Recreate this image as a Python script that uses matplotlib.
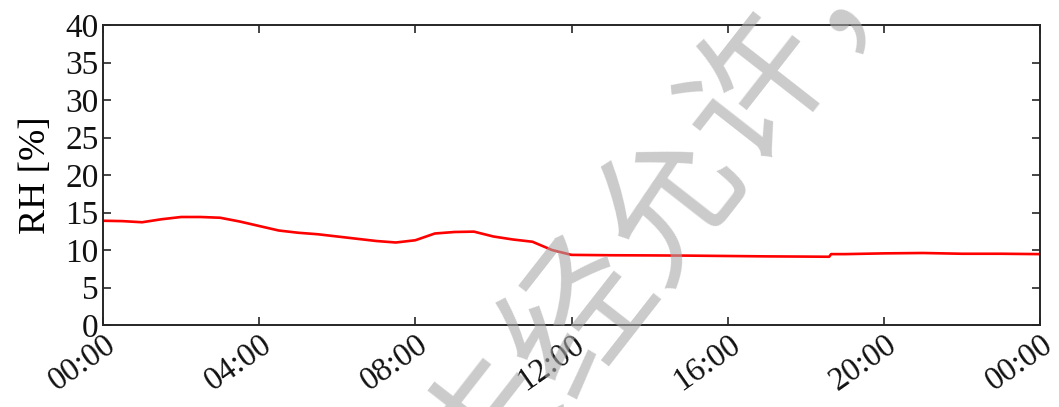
import matplotlib
matplotlib.use("Agg")
import matplotlib.pyplot as plt
from matplotlib.transforms import ScaledTranslation

# data: hours since 00:00 and relative humidity [%]
hours = [0, 0.5, 1, 1.5, 2, 2.5, 3, 3.5, 4, 4.5, 5, 5.5, 6, 6.5, 7, 7.5,
         8, 8.5, 9, 9.5, 10, 10.5, 11, 11.5, 12, 13, 14, 15, 16, 17, 18, 18.6,
         18.65, 19, 20, 21, 22, 23, 24]
rh = [13.9, 13.85, 13.7, 14.1, 14.4, 14.4, 14.3, 13.8, 13.2, 12.6, 12.3, 12.1,
      11.8, 11.5, 11.2, 11.0, 11.3, 12.2, 12.4, 12.45, 11.8, 11.4, 11.1, 10.0,
      9.35, 9.3, 9.28, 9.25, 9.2, 9.15, 9.12, 9.1, 9.45, 9.45, 9.55, 9.6, 9.5,
      9.5, 9.45]
xtick_hours = [0, 4, 8, 12, 16, 20, 24]
xtick_labels = ["00:00", "04:00", "08:00", "12:00", "16:00", "20:00", "00:00"]
yticks = [0, 5, 10, 15, 20, 25, 30, 35, 40]

plt.rcParams['font.family'] = ['Liberation Serif', 'DejaVu Serif']
fig = plt.figure(figsize=(10.59, 4.07), dpi=100)
ax = fig.add_axes([103/1059, 1-325/407, (1040-103)/1059, 300/407])

ax.plot(hours, rh, color='#ff0000', lw=1.9)
ax.set_xlim(0, 24)
ax.set_ylim(0, 40)
ax.set_xticks(xtick_hours)
ax.set_xticklabels(xtick_labels, rotation=35, ha='right', rotation_mode='anchor')
ax.set_yticks(yticks)
ax.tick_params(direction='in', top=True, right=True, labelsize=24,
               length=6, width=1.2, colors='#262626', labelcolor='#111111', pad=3)
ax.tick_params(axis='x', pad=3, labelsize=23.5)
offset = ScaledTranslation(1/100, 0, fig.dpi_scale_trans)
for lbl in ax.get_xticklabels():
    lbl.set_transform(lbl.get_transform() + offset)
for s in ax.spines.values():
    s.set_linewidth(1.4)
    s.set_color('#262626')
ax.set_ylabel("RH [%]", fontsize=27, labelpad=9)

# watermark
fig.text(670/1059, 1-203/407, "未经允许，", fontsize=104, color='#a8a8a8', alpha=0.6,
         rotation=52, ha='center', va='center',
         family=['Noto Sans CJK SC', 'DejaVu Sans'], zorder=10)

fig.savefig("out.png", dpi=100)
